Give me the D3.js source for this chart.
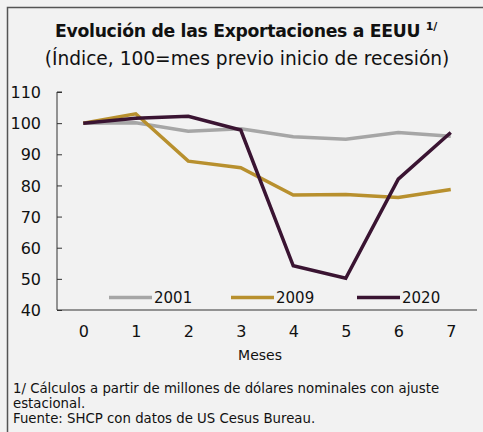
<!DOCTYPE html>
<html><head><meta charset="utf-8">
<script src="https://cdn.jsdelivr.net/npm/d3@7"></script>
<style>
html,body{margin:0;padding:0;background:#f2f2f2;}
svg{display:block;font-family:"DejaVu Sans",sans-serif;}
</style></head>
<body>
<svg id="c" width="483" height="432"></svg>
<script>
const months = [0,1,2,3,4,5,6,7];
const s2001 = [100,100.1,97.4,98.2,95.6,94.8,97.0,95.8];
const s2009 = [100,103.0,87.8,85.7,76.9,77.1,76.1,78.7];
const s2020 = [100,101.6,102.2,97.8,54.2,50.2,82.0,97.0];
const seriesNames = ["2001","2009","2020"];
const seriesColors = ["#a6a6a6","#b8902e","#3a1432"];
const yTicks = [40,50,60,70,80,90,100,110];
const FF = "DejaVu Sans";

const svg = d3.select("#c");
svg.append("rect").attr("width",483).attr("height",432).attr("fill","#f2f2f2");
// panel border
svg.append("path").attr("d","M7.5,440 V7.5 H490").attr("fill","none").attr("stroke","#555").attr("stroke-width",1.5);

function fit(sel, target){
  const w = sel.node().getComputedTextLength();
  const fs = parseFloat(sel.attr("font-size"));
  sel.attr("font-size", fs*target/w);
}

const t1 = svg.append("text").attr("x",246).attr("y",37).attr("text-anchor","middle")
  .attr("font-size",18).attr("font-weight","bold").attr("fill","#111").attr("letter-spacing",-0.3);
t1.append("tspan").text("Evolución de las Exportaciones a EEUU ");
t1.append("tspan").attr("font-size",11).attr("dy",-7).text("1/");
fit(t1,382);
const t2 = svg.append("text").attr("x",247).attr("y",65).attr("text-anchor","middle")
  .attr("font-size",17).attr("fill","#111").text("(Índice, 100=mes previo inicio de recesión)");
fit(t2,405);

const x = d3.scalePoint().domain(months).range([83.25,450.75]);
const y = d3.scaleLinear().domain([40,110]).range([310,92]);

// y axis
const ya = svg.append("g").attr("transform","translate(57,0)")
  .call(d3.axisRight(y).tickValues(yTicks).tickSize(5).tickFormat(d3.format("d")));
ya.select(".domain").attr("stroke","#333").attr("d","M5,92H0V310");
ya.selectAll(".tick line").attr("stroke","#333");
ya.selectAll(".tick text").attr("x",-16).attr("text-anchor","end").attr("dy","0.35em")
  .attr("font-size",16).attr("fill","#111").attr("font-family",FF);

// x axis
const xa = svg.append("g").attr("transform","translate(0,310)")
  .call(d3.axisBottom(x).tickSize(0).tickPadding(16));
xa.select(".domain").attr("stroke","#333").attr("d","M57,0H477");
xa.selectAll(".tick text").attr("font-size",16).attr("fill","#111").attr("font-family",FF);
svg.append("text").attr("x",260).attr("y",360).attr("text-anchor","middle")
  .attr("font-size",14).attr("fill","#111").text("Meses");

const data = [s2001,s2009,s2020];
const line = d3.line().x((d,i)=>x(months[i])).y(d=>y(d));
data.forEach((s,k)=>{
  svg.append("path").datum(s).attr("d",line).attr("fill","none")
    .attr("stroke",seriesColors[k]).attr("stroke-width",3.5).attr("stroke-linejoin","miter");
});

// legend
const lx = [109,231,357];
seriesNames.forEach((n,k)=>{
  svg.append("line").attr("x1",lx[k]).attr("x2",lx[k]+43).attr("y1",297.5).attr("y2",297.5)
    .attr("stroke",seriesColors[k]).attr("stroke-width",3.5);
  svg.append("text").attr("x",lx[k]+45).attr("y",303).attr("font-size",15).attr("fill","#111").text(n);
});

// footnotes
const fs = 13.3;
svg.append("text").attr("x",13).attr("y",393).attr("font-size",fs).attr("fill","#111")
  .text("1/ Cálculos a partir de millones de dólares nominales con ajuste");
svg.append("text").attr("x",13).attr("y",408).attr("font-size",fs).attr("fill","#111").text("estacional.");
svg.append("text").attr("x",13).attr("y",423).attr("font-size",fs).attr("fill","#111").text("Fuente: SHCP con datos de US Cesus Bureau.");
</script>
</body></html>
